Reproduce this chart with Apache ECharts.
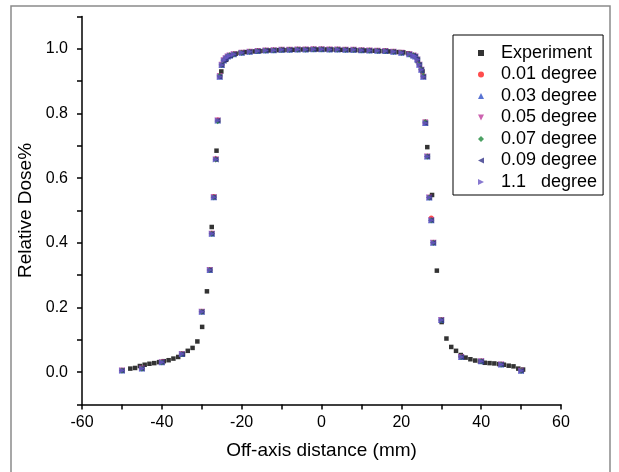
<!DOCTYPE html>
<html>
  <head>
    <meta charset="utf-8" />
    <title>Relative dose profile</title>
    <script src="https://cdnjs.cloudflare.com/ajax/libs/echarts/6.0.0/echarts.min.js"></script>
  </head>
  <body>
    <style>
      html,
      body {
        width: 100%;
        height: 100%;
        margin: 0;
        padding: 0;
        background: #fff;
      }
      #main {
        width: 619px;
        height: 472px;
      }
    </style>
    <div id="main"></div>
    <script type="text/javascript">

      // measured profile (black squares)
      var expX = [-47.9, -46.7, -45.5, -44.3, -43.1, -41.9, -40.7, -39.5, -38.3, -37.1,
                  -35.9, -34.7, -33.5, -32.3, -31.1, -29.9, -28.7, -27.5, -26.3, -25.1,
                  -23.9, -22.7, -21.5, -20.3, -19.1, -17.9, -16.7, -15.5, -14.3, -13.1,
                  -11.9, -10.7, -9.5, -8.3, -7.1, -5.9, -4.7, -3.5, -2.3, -1.1,
                  0.1, 1.3, 2.5, 3.7, 4.9, 6.1, 7.3, 8.5, 9.7, 10.9,
                  12.1, 13.3, 14.5, 15.7, 16.9, 18.1, 19.3, 20.5, 21.7, 22.9,
                  24.1, 25.3, 26.5, 27.7, 28.9, 30.1, 31.3, 32.5, 33.7, 34.9,
                  36.1, 37.3, 38.5, 39.7, 40.9, 42.1, 43.3, 44.5, 45.7, 46.9,
                  48.1, 49.3, 50.5];
      var expY = [0.011, 0.013, 0.019, 0.023, 0.026, 0.028, 0.031, 0.034, 0.037, 0.042,
                  0.047, 0.055, 0.066, 0.075, 0.095, 0.140, 0.250, 0.449, 0.685, 0.930,
                  0.966, 0.978, 0.985, 0.988, 0.990, 0.991, 0.992, 0.993, 0.994, 0.995,
                  0.995, 0.996, 0.996, 0.997, 0.997, 0.997, 0.998, 0.998, 0.998, 0.998,
                  0.998, 0.998, 0.998, 0.997, 0.997, 0.997, 0.996, 0.996, 0.995, 0.995,
                  0.994, 0.994, 0.993, 0.993, 0.992, 0.991, 0.990, 0.989, 0.986, 0.978,
                  0.962, 0.930, 0.696, 0.548, 0.314, 0.155, 0.104, 0.078, 0.066, 0.053,
                  0.045, 0.040, 0.036, 0.033, 0.029, 0.028, 0.027, 0.025, 0.023, 0.020,
                  0.018, 0.011, 0.008];

      // simulated profiles, one per tilt angle
      var simX = [-50, -45, -40, -35, -30, -28, -27.5, -27, -26.5, -26,
                  -25.5, -25, -24.5, -24, -23.5, -23, -22, -20, -18, -16,
                  -14, -12, -10, -8, -6, -4, -2, 0, 2, 4,
                  6, 8, 10, 12, 14, 16, 18, 20, 22, 23,
                  23.5, 24, 24.5, 25, 25.5, 26, 26.5, 27, 27.5, 28,
                  30, 35, 40, 45, 50];
      var sim001 = [0.005, 0.011, 0.031, 0.056, 0.187, 0.316, 0.430, 0.543, 0.660, 0.780,
                    0.914, 0.950, 0.964, 0.971, 0.976, 0.979, 0.983, 0.988, 0.991, 0.993,
                    0.995, 0.996, 0.997, 0.997, 0.998, 0.998, 0.999, 0.999, 0.998, 0.998,
                    0.997, 0.997, 0.996, 0.995, 0.994, 0.993, 0.991, 0.988, 0.983, 0.979,
                    0.976, 0.967, 0.951, 0.935, 0.914, 0.771, 0.667, 0.540, 0.477, 0.400,
                    0.161, 0.047, 0.034, 0.024, 0.004];
      var sim003 = [0.005, 0.011, 0.031, 0.056, 0.187, 0.316, 0.428, 0.541, 0.661, 0.778,
                    0.914, 0.950, 0.964, 0.971, 0.976, 0.979, 0.983, 0.988, 0.991, 0.993,
                    0.995, 0.996, 0.997, 0.997, 0.998, 0.998, 0.999, 0.999, 0.998, 0.998,
                    0.997, 0.997, 0.996, 0.995, 0.994, 0.993, 0.991, 0.988, 0.983, 0.979,
                    0.976, 0.967, 0.951, 0.935, 0.914, 0.771, 0.667, 0.540, 0.470, 0.400,
                    0.161, 0.047, 0.034, 0.024, 0.004];
      var sim005 = [0.005, 0.011, 0.031, 0.056, 0.187, 0.316, 0.428, 0.541, 0.658, 0.778,
                    0.916, 0.951, 0.965, 0.971, 0.976, 0.979, 0.983, 0.988, 0.991, 0.993,
                    0.995, 0.996, 0.997, 0.997, 0.998, 0.998, 0.999, 0.999, 0.998, 0.998,
                    0.997, 0.997, 0.996, 0.995, 0.994, 0.993, 0.991, 0.988, 0.983, 0.979,
                    0.976, 0.967, 0.951, 0.935, 0.914, 0.773, 0.667, 0.540, 0.470, 0.400,
                    0.161, 0.047, 0.034, 0.024, 0.004];
      var sim007 = [0.005, 0.011, 0.031, 0.056, 0.187, 0.316, 0.428, 0.541, 0.658, 0.776,
                    0.917, 0.951, 0.965, 0.972, 0.978, 0.980, 0.983, 0.988, 0.991, 0.993,
                    0.995, 0.996, 0.997, 0.997, 0.998, 0.998, 0.999, 0.999, 0.998, 0.998,
                    0.997, 0.997, 0.996, 0.995, 0.994, 0.993, 0.991, 0.988, 0.983, 0.980,
                    0.977, 0.969, 0.953, 0.937, 0.916, 0.774, 0.667, 0.540, 0.470, 0.400,
                    0.161, 0.047, 0.034, 0.024, 0.004];
      var sim009 = [0.005, 0.011, 0.031, 0.056, 0.187, 0.316, 0.428, 0.541, 0.658, 0.778,
                    0.914, 0.950, 0.964, 0.971, 0.976, 0.979, 0.983, 0.988, 0.991, 0.993,
                    0.995, 0.996, 0.997, 0.997, 0.998, 0.998, 0.999, 0.999, 0.998, 0.998,
                    0.997, 0.997, 0.996, 0.995, 0.994, 0.993, 0.991, 0.988, 0.983, 0.979,
                    0.976, 0.967, 0.951, 0.935, 0.914, 0.771, 0.667, 0.540, 0.470, 0.400,
                    0.161, 0.047, 0.034, 0.024, 0.004];
      var sim11 = [0.005, 0.011, 0.031, 0.056, 0.187, 0.316, 0.428, 0.541, 0.658, 0.778,
                   0.914, 0.950, 0.964, 0.971, 0.976, 0.979, 0.983, 0.988, 0.991, 0.993,
                   0.995, 0.996, 0.997, 0.997, 0.998, 0.998, 0.999, 0.999, 0.998, 0.998,
                   0.997, 0.997, 0.996, 0.995, 0.994, 0.993, 0.991, 0.988, 0.983, 0.979,
                   0.976, 0.967, 0.951, 0.935, 0.914, 0.771, 0.667, 0.540, 0.470, 0.400,
                   0.161, 0.047, 0.034, 0.024, 0.004];

      var seriesNames = ['Experiment', '0.01 degree', '0.03 degree', '0.05 degree',
                         '0.07 degree', '0.09 degree', '1.1   degree'];

      var FONT = '"Liberation Sans", Arial, sans-serif';

      // marker shapes
      var TRI_UP = 'path://M5,0L10,10L0,10Z';
      var TRI_DOWN = 'path://M0,0L10,0L5,10Z';
      var TRI_LEFT = 'path://M0,5L10,0L10,10Z';
      var TRI_RIGHT = 'path://M0,0L10,5L0,10Z';

      function pairs(xs, ys) {
        var out = [];
        for (var i = 0; i < xs.length; i++) out.push([xs[i], ys[i]]);
        return out;
      }

      // x, y, symbol, colour, size
      var styles = [
        [expX, expY, 'rect', '#000000', 4.5],
        [simX, sim001, 'circle', '#ff2020', 5],
        [simX, sim003, TRI_UP, '#3050c8', 6],
        [simX, sim005, TRI_DOWN, '#c03c9c', 6],
        [simX, sim007, 'diamond', '#1f8a3c', 6],
        [simX, sim009, TRI_LEFT, '#333388', 6],
        [simX, sim11, TRI_RIGHT, '#6a58c4', 6]
      ];

      var series = styles.map(function (s, i) {
        return {
          name: seriesNames[i],
          type: 'scatter',
          data: pairs(s[0], s[1]),
          symbol: s[2],
          symbolSize: s[4],
          symbolKeepAspect: true,
          itemStyle: { color: s[3] },
          animation: false
        };
      });

      var legendData = styles.map(function (s, i) {
        return { name: seriesNames[i], icon: s[2] };
      });

      var chart = echarts.init(document.getElementById('main'));
      var option = {
        backgroundColor: '#ffffff',
        animation: false,
        textStyle: { fontFamily: FONT },
        graphic: [{
          type: 'rect',
          shape: { x: 11, y: 6, width: 599, height: 480 },
          style: { fill: 'none', stroke: '#8a8a8a', lineWidth: 1.5 },
          silent: true,
          z: -1
        }],
        grid: { left: 82, right: 58, top: 16.5, bottom: 67.5 },
        legend: {
          orient: 'vertical',
          left: 453,
          top: 35,
          padding: [9, 6, 4, 25],
          itemWidth: 6,
          itemHeight: 6,
          itemGap: 3.5,
          symbolKeepAspect: true,
          borderColor: '#000',
          borderWidth: 1,
          data: legendData,
          textStyle: {
            fontSize: 18, color: '#000', fontFamily: FONT, lineHeight: 18,
            padding: [0, 0, 0, 12]
          }
        },
        xAxis: {
          type: 'value',
          min: -60,
          max: 60,
          interval: 10,
          name: 'Off-axis distance (mm)',
          nameLocation: 'middle',
          nameGap: 37,
          nameTextStyle: { fontSize: 19, color: '#000', fontFamily: FONT },
          axisLine: { onZero: false, lineStyle: { color: '#000', width: 1.5 } },
          axisTick: { length: 5, lineStyle: { color: '#000', width: 1.5 } },
          axisLabel: {
            fontSize: 16, color: '#000', margin: 10, fontFamily: FONT,
            formatter: function (v) { return v % 20 === 0 ? String(v) : ''; }
          },
          splitLine: { show: false }
        },
        yAxis: {
          type: 'value',
          min: -0.1,
          max: 1.1,
          interval: 0.1,
          name: 'Relative Dose%',
          nameLocation: 'middle',
          nameGap: 44,
          nameTextStyle: { fontSize: 19, color: '#000', fontFamily: FONT },
          axisLine: { show: true, onZero: false, lineStyle: { color: '#000', width: 1.5 } },
          axisTick: { show: true, length: 5, lineStyle: { color: '#000', width: 1.5 } },
          axisLabel: {
            fontSize: 16, color: '#000', margin: 14, fontFamily: FONT,
            formatter: function (v) {
              var k = Math.round(v * 10);
              return (k >= 0 && k % 2 === 0) ? (k / 10).toFixed(1) : '';
            }
          },
          splitLine: { show: false }
        },
        series: series
      };
      chart.setOption(option);
    </script>
  </body>
</html>
